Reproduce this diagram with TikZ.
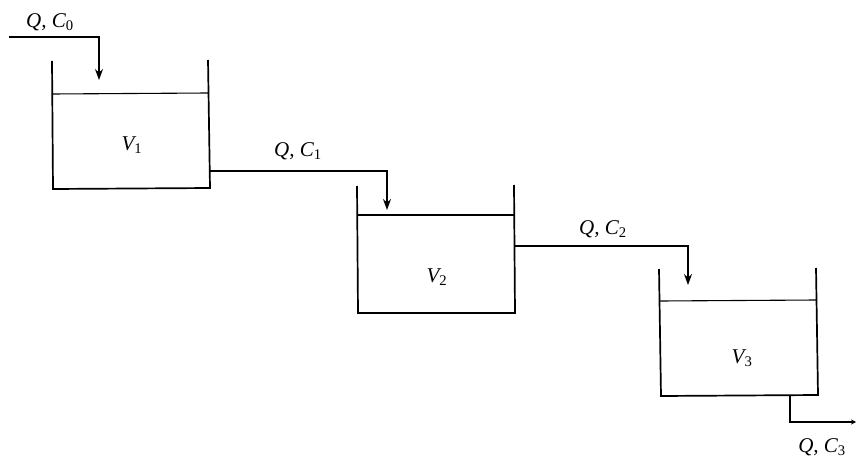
\documentclass[tikz,border=0pt]{standalone}
\usepackage{fontspec}
\setmainfont{Liberation Serif}
\usetikzlibrary{arrows.meta}
\begin{document}
\begin{tikzpicture}[x=1pt,y=-1pt,
 tankwall/.style={line width=1.7pt,line join=miter},
 level/.style={line width=1.1pt},
 flow/.style={line width=1.1pt,-{Stealth[length=11pt,width=8pt]}},
 lab/.style={font=\fontsize{21}{23}\selectfont\itshape,inner sep=0pt},
]
\useasboundingbox (0,0) rectangle (856,460);
\fill[white] (0,0) rectangle (856,460);
\coordinate (s0) at (9,37);
\coordinate (a1) at (99,80);
\coordinate (o1) at (210,171);
\coordinate (a2) at (387,210);
\coordinate (o2) at (515,246);
\coordinate (a3) at (688,285);
\coordinate (o3) at (790,396);
\coordinate (e3) at (856,422);
\draw[tankwall] (52,61) -- (53,189) -- (210,188) -- (208,60);
\draw[level] (52,94) -- (208,93);
\draw[tankwall] (357,186) -- (358,313) -- (515,313) -- (514,185);
\draw[level] (357,215) -- (514,215);
\draw[tankwall] (659,269) -- (661,396) -- (818,395) -- (816,268);
\draw[level] (660,301) -- (816,300);
\draw[flow] (s0) -- (99,37) -- (a1);
\draw[flow] (o1) -- (387,171) -- (a2);
\draw[flow] (o2) -- (688,246) -- (a3);
\draw[line width=1.1pt,-{Stealth[length=5pt,width=5pt]}] (o3) -- (790,422) -- (e3);
\node[lab] (l0) at (50,22) {Q, C\textsubscript{\normalfont 0}};
\node[lab] (l1) at (298,151) {Q, C\textsubscript{\normalfont 1}};
\node[lab] (l2) at (603,229) {Q, C\textsubscript{\normalfont 2}};
\node[lab] (l3) at (822,447) {Q, C\textsubscript{\normalfont 3}};
\node[lab] (v1) at (132,145) {V\textsubscript{\normalfont 1}};
\node[lab] (v2) at (437,277) {V\textsubscript{\normalfont 2}};
\node[lab] (v3) at (742,358) {V\textsubscript{\normalfont 3}};
\end{tikzpicture}
\end{document}
